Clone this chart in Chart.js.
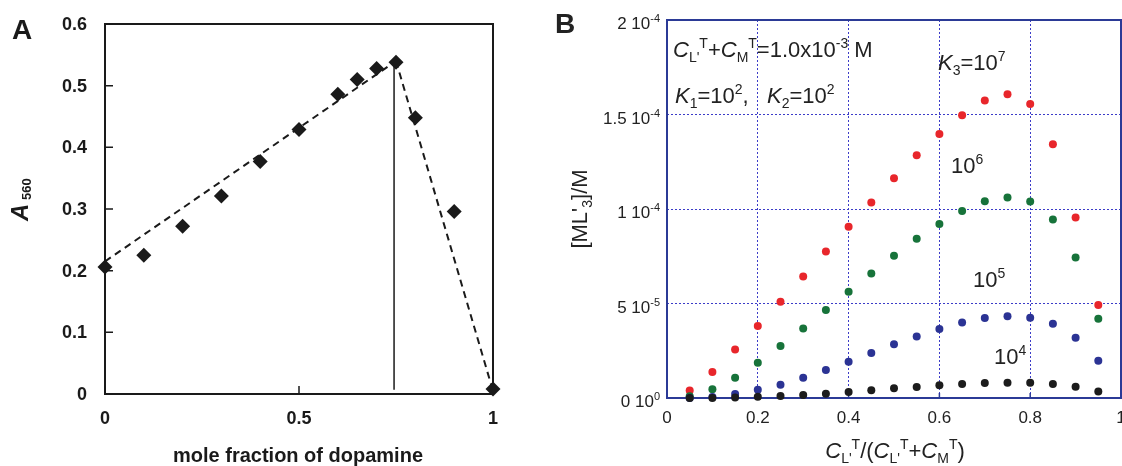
<!DOCTYPE html>
<html lang="en">
<head>
    <meta charset="UTF-8">
    <title>Job plot and ML'3 simulation</title>
    <script src="https://cdn.jsdelivr.net/npm/chart.js"></script>
    <style>
        * { margin: 0; padding: 0; box-sizing: border-box; }
        body { background: #fff; width: 1122px; height: 466px; position: relative; overflow: hidden; }
        .panel { position: absolute; top: 0; }
        #panelA { left: 0; width: 540px; height: 466px; }
        #panelB { left: 540px; width: 582px; height: 466px; }
    </style>
</head>
<body>
    <div class="panel" id="panelA"><canvas id="chartA" width="540" height="466"></canvas></div>
    <div class="panel" id="panelB"><canvas id="chartB" width="582" height="466"></canvas></div>

    <script>
        const FONT = '"Liberation Sans", Arial, sans-serif';

        // Panel A - Job plot
        const fracA = [0, 0.1, 0.2, 0.3, 0.4, 0.5, 0.6, 0.65, 0.7, 0.75, 0.8, 0.9, 1.0];
        const absA = [0.206, 0.225, 0.272, 0.321, 0.377, 0.429, 0.486, 0.510, 0.528, 0.538, 0.448, 0.296, 0.008];
        const fitRiseX = [0, 0.75];
        const fitRiseY = [0.215, 0.54];
        const fitFallX = [0.75, 1.0];
        const fitFallY = [0.54, 0.005];
        const stoichX = [0.745, 0.745];
        const stoichY = [0.007, 0.54];
        const ticksAX = [0, 0.5, 1];
        const ticksAY = [0, 0.1, 0.2, 0.3, 0.4, 0.5, 0.6];

        // Panel B - simulated [ML'3]
        const fracB = [0.05, 0.10, 0.15, 0.20, 0.25, 0.30, 0.35, 0.40, 0.45, 0.50, 0.55, 0.60, 0.65, 0.70, 0.75, 0.80, 0.85, 0.90, 0.95];
        const k3e7 = [0.40e-5, 1.37e-5, 2.56e-5, 3.81e-5, 5.09e-5, 6.43e-5, 7.75e-5, 9.06e-5, 10.34e-5, 11.63e-5, 12.85e-5, 13.97e-5, 14.96e-5, 15.74e-5, 16.07e-5, 15.56e-5, 13.43e-5, 9.55e-5, 4.92e-5];
        const k3e6 = [0.09e-5, 0.46e-5, 1.07e-5, 1.87e-5, 2.75e-5, 3.68e-5, 4.65e-5, 5.62e-5, 6.59e-5, 7.52e-5, 8.42e-5, 9.20e-5, 9.89e-5, 10.41e-5, 10.61e-5, 10.40e-5, 9.44e-5, 7.44e-5, 4.19e-5];
        const k3e5 = [0.00e-5, 0.05e-5, 0.21e-5, 0.44e-5, 0.70e-5, 1.07e-5, 1.48e-5, 1.92e-5, 2.38e-5, 2.84e-5, 3.26e-5, 3.65e-5, 4.00e-5, 4.23e-5, 4.33e-5, 4.25e-5, 3.93e-5, 3.19e-5, 1.97e-5];
        const k3e4 = [0.00e-5, 0.00e-5, 0.02e-5, 0.07e-5, 0.11e-5, 0.16e-5, 0.23e-5, 0.32e-5, 0.41e-5, 0.51e-5, 0.58e-5, 0.67e-5, 0.74e-5, 0.79e-5, 0.81e-5, 0.81e-5, 0.74e-5, 0.60e-5, 0.35e-5];
        const ticksBX = [0, 0.2, 0.4, 0.6, 0.8, 1];
        const ticksBXLabels = ['0', '0.2', '0.4', '0.6', '0.8', '1'];
        const ticksBY = [0, 5e-5, 1e-4, 1.5e-4, 2e-4];
        const ticksBYMant = ['0', '5', '1', '1.5', '2'];
        const ticksBYExp = ['0', '-5', '-4', '-4', '-4'];

        const toPts = (xs, ys) => xs.map((x, i) => ({ x: x, y: ys[i] }));

        // rich text helpers
        const txt = (t, o) => Object.assign({ t: t }, o || {});
        function fontOf(p, size, weight) {
            return (p.italic ? 'italic ' : '') + (p.bold || weight === 'bold' ? 'bold ' : '') + (p.size || size) + 'px ' + FONT;
        }
        function drawRich(ctx, parts, x, y, size, align, weight) {
            let w = 0;
            parts.forEach(p => { ctx.font = fontOf(p, size, weight); w += ctx.measureText(p.t).width; });
            let cx = align === 'center' ? x - w / 2 : align === 'right' ? x - w : x;
            ctx.textAlign = 'left';
            ctx.textBaseline = 'alphabetic';
            parts.forEach(p => {
                ctx.font = fontOf(p, size, weight);
                ctx.fillText(p.t, cx, y + (p.dy || 0));
                cx += ctx.measureText(p.t).width;
            });
        }
        const sub = (t, s) => txt(t, { size: s || 14, dy: 5 });
        const sup = (t, s) => txt(t, { size: s || 14, dy: -9 });

        const decorA = {
            id: 'decorA',
            beforeDatasetsDraw(chart) {
                const { ctx, chartArea: a, scales: { x, y } } = chart;
                ctx.save();
                ctx.strokeStyle = '#1a1a1a';
                ctx.lineWidth = 2;
                ctx.strokeRect(a.left, a.top, a.right - a.left, a.bottom - a.top);
                ctx.lineWidth = 1.5;
                ctx.beginPath();
                ticksAY.forEach(v => {
                    const py = y.getPixelForValue(v);
                    ctx.moveTo(a.left, py);
                    ctx.lineTo(a.left + 8, py);
                });
                ticksAX.forEach(v => {
                    const px = x.getPixelForValue(v);
                    ctx.moveTo(px, a.bottom);
                    ctx.lineTo(px, a.bottom - 8);
                });
                ctx.stroke();
                ctx.restore();
            },
            afterDraw(chart) {
                const { ctx, scales: { x, y } } = chart;
                ctx.save();
                ctx.fillStyle = '#1a1a1a';
                ctx.font = 'bold 18px ' + FONT;
                ctx.textAlign = 'right';
                ctx.textBaseline = 'middle';
                ticksAY.forEach(v => ctx.fillText(String(v), 87, y.getPixelForValue(v) + 1));
                ctx.textAlign = 'center';
                ticksAX.forEach(v => ctx.fillText(String(v), x.getPixelForValue(v), 419));
                // panel letter
                ctx.textAlign = 'left';
                ctx.textBaseline = 'alphabetic';
                ctx.font = 'bold 28px ' + FONT;
                ctx.fillText('A', 12, 39);
                // x title
                ctx.font = 'bold 20px ' + FONT;
                ctx.textAlign = 'center';
                ctx.fillText('mole fraction of dopamine', 298, 462);
                // y title
                ctx.translate(28, 221);
                ctx.rotate(-Math.PI / 2);
                drawRich(ctx, [txt('A', { italic: true, size: 24 }), txt(' 560', { size: 13, dy: 3 })], 0, 0, 24, 'left', 'bold');
                ctx.restore();
            }
        };

        new Chart(document.getElementById('chartA'), {
            type: 'scatter',
            data: {
                datasets: [
                    { data: toPts(fracA, absA), pointStyle: 'rectRot', pointRadius: 7.5, backgroundColor: '#1a1a1a', borderWidth: 0, clip: false },
                    { data: toPts(fitRiseX, fitRiseY), showLine: true, borderColor: '#1a1a1a', borderWidth: 2, borderDash: [7, 5], pointRadius: 0 },
                    { data: toPts(fitFallX, fitFallY), showLine: true, borderColor: '#1a1a1a', borderWidth: 2, borderDash: [7, 5], pointRadius: 0 },
                    { data: toPts(stoichX, stoichY), showLine: true, borderColor: '#1a1a1a', borderWidth: 1.5, pointRadius: 0 }
                ]
            },
            options: {
                responsive: false,
                animation: false,
                devicePixelRatio: 1,
                layout: { autoPadding: false, padding: { top: 24, right: 47, left: 0, bottom: 0 } },
                plugins: { legend: { display: false }, tooltip: { enabled: false } },
                scales: {
                    x: {
                        type: 'linear', min: 0, max: 1,
                        ticks: { display: false, stepSize: 0.5 },
                        grid: { display: false }, border: { display: false },
                        afterFit: s => { s.height = 72; s.paddingLeft = 0; s.paddingRight = 0; }
                    },
                    y: {
                        min: 0, max: 0.6,
                        ticks: { display: false, stepSize: 0.1 },
                        grid: { display: false }, border: { display: false },
                        afterFit: s => { s.width = 105; s.paddingTop = 0; s.paddingBottom = 0; }
                    }
                }
            },
            plugins: [decorA]
        });

        // panel B canvas starts at page x = 540
        const OX = 20;
        const BLUE = '#2b3a96';
        const decorB = {
            id: 'decorB',
            beforeDatasetsDraw(chart) {
                const { ctx, chartArea: a, scales: { x } } = chart;
                ctx.save();
                ctx.strokeStyle = BLUE;
                ctx.lineWidth = 2;
                ctx.strokeRect(a.left, a.top, a.right - a.left, a.bottom - a.top);
                ctx.lineWidth = 1.5;
                ctx.beginPath();
                ticksBX.forEach(v => {
                    const px = x.getPixelForValue(v);
                    ctx.moveTo(px, a.bottom);
                    ctx.lineTo(px, a.bottom - 5);
                });
                ctx.stroke();
                ctx.restore();
            },
            afterDraw(chart) {
                const { ctx, scales: { x, y } } = chart;
                ctx.save();
                ctx.fillStyle = '#222';
                ticksBY.forEach((v, i) => {
                    drawRich(ctx, [txt(ticksBYMant[i] + ' 10'), txt(ticksBYExp[i], { size: 11, dy: -7 })],
                        OX + 100, y.getPixelForValue(v) + 9, 17, 'right');
                });
                ctx.font = '17px ' + FONT;
                ctx.textAlign = 'center';
                ctx.textBaseline = 'alphabetic';
                ticksBX.forEach((v, i) => ctx.fillText(ticksBXLabels[i], x.getPixelForValue(v), 423));

                // panel letter
                ctx.font = 'bold 28px ' + FONT;
                ctx.textAlign = 'left';
                ctx.fillText('B', OX - 5, 33);

                // x title
                drawRich(ctx, [txt('C', { italic: true }), sub("L'"), sup('T'), txt('/('), txt('C', { italic: true }), sub("L'"), sup('T'),
                    txt('+'), txt('C', { italic: true }), sub('M'), sup('T'), txt(')')], OX + 335, 458, 22, 'center');

                // annotations inside the plot
                drawRich(ctx, [txt('C', { italic: true }), sub("L'"), sup('T'), txt('+'), txt('C', { italic: true }), sub('M'), sup('T'),
                    txt('=1.0x10'), sup('-3'), txt(' M')], OX + 113, 57, 22, 'left');
                drawRich(ctx, [txt('K', { italic: true }), sub('1'), txt('=10'), sup('2'), txt(',   '),
                    txt('K', { italic: true }), sub('2'), txt('=10'), sup('2')], OX + 115, 103, 22, 'left');
                drawRich(ctx, [txt('K', { italic: true }), sub('3'), txt('=10'), sup('7')], OX + 378, 70, 22, 'left');
                drawRich(ctx, [txt('10'), sup('6')], OX + 391, 173, 22, 'left');
                drawRich(ctx, [txt('10'), sup('5')], OX + 413, 287, 22, 'left');
                drawRich(ctx, [txt('10'), sup('4')], OX + 434, 364, 22, 'left');

                // y title
                ctx.translate(OX + 27, 209);
                ctx.rotate(-Math.PI / 2);
                drawRich(ctx, [txt("[ML'"), sub('3'), txt(']/M')], 0, 0, 22, 'center');
                ctx.restore();
            }
        };

        const dots = (ys, color) => ({
            data: toPts(fracB, ys), pointRadius: 4, pointHoverRadius: 4, backgroundColor: color, borderWidth: 0, clip: false
        });

        new Chart(document.getElementById('chartB'), {
            type: 'scatter',
            data: {
                datasets: [
                    dots(k3e4, '#1c1c1c'),
                    dots(k3e5, '#2b3394'),
                    dots(k3e6, '#17733a'),
                    dots(k3e7, '#e8262b')
                ]
            },
            options: {
                responsive: false,
                animation: false,
                devicePixelRatio: 1,
                layout: { autoPadding: false, padding: { top: 20, right: 1, left: 0, bottom: 0 } },
                plugins: { legend: { display: false }, tooltip: { enabled: false } },
                scales: {
                    x: {
                        type: 'linear', min: 0, max: 1,
                        ticks: { display: false, stepSize: 0.2 },
                        grid: { color: '#3c3cc8', lineWidth: 1, drawTicks: false },
                        border: { display: false, dash: [2, 2] },
                        afterFit: s => { s.height = 68; s.paddingLeft = 0; s.paddingRight = 0; }
                    },
                    y: {
                        min: 0, max: 2e-4,
                        ticks: { display: false, stepSize: 5e-5 },
                        grid: { color: '#3c3cc8', lineWidth: 1, drawTicks: false },
                        border: { display: false, dash: [2, 2] },
                        afterFit: s => { s.width = 127; s.paddingTop = 0; s.paddingBottom = 0; }
                    }
                }
            },
            plugins: [decorB]
        });
    </script>
</body>
</html>
